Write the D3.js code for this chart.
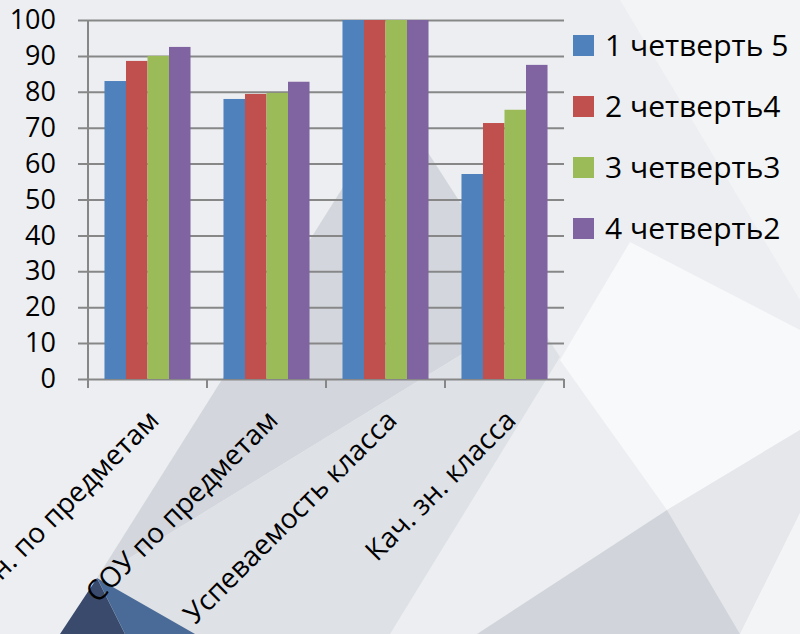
<!DOCTYPE html>
<html><head><meta charset="utf-8">
<script src="https://cdn.jsdelivr.net/npm/d3@7"></script>
<style>
html,body{margin:0;padding:0;background:#eceef1;}
svg{display:block;}
text{font-family:"Open Sans","Noto Sans",sans-serif;fill:#000;}
</style></head>
<body>
<svg id="chart" width="800" height="634"></svg>
<script>
const categories = ["Кач. зн. по предметам", "СОУ по предметам", "Успеваемость класса", "Кач. зн. класса"];
const seriesNames = ["1 четверть 5", "2 четверть4", "3 четверть3", "4 четверть2"];
const q1 = [83, 78, 100, 57.1];
const q2 = [88.6, 79.4, 100, 71.3];
const q3 = [90, 79.7, 100, 75];
const q4 = [92.5, 82.8, 100, 87.5];
const yTicks = [0, 10, 20, 30, 40, 50, 60, 70, 80, 90, 100];
const colors = ["#4F81BD", "#C0504D", "#9BBB59", "#8064A2"];

(function () {
const series = [q1, q2, q3, q4];
const svg = d3.select("#chart");

// background geometry
const bg = svg.append("g");
const polys = [
  {p:[[620,0],[800,0],[800,300]], c:"#f3f4f6"},
  {p:[[396,103],[97,578],[531,312]], c:"#d3d7dd"},
  {p:[[97,578],[531,312],[560,357],[390,634],[175,634]], c:"#dee1e6"},
  {p:[[630,242],[800,330],[800,430],[667,510],[560,360]], c:"#f8f9fa"},
  {p:[[667,510],[800,430],[800,513],[740,634]], c:"#e5e7eb"},
  {p:[[667,510],[477,634],[740,634]], c:"#d1d5db"},
  {p:[[800,513],[740,634],[800,634]], c:"#f3f4f6"},
  {p:[[97,578],[60,634],[125,634]], c:"#3a4a6c"},
  {p:[[97,578],[125,634],[195,634]], c:"#4a6b97"}
];
bg.selectAll("polygon").data(polys).join("polygon")
  .attr("points", d => d.p.map(q => q.join(",")).join(" "))
  .attr("fill", d => d.c);

const mLeft = 88, mRight = 564, mTop = 20, mBottom = 379;
const x0 = d3.scaleBand().domain(categories).range([mLeft, mRight]).paddingInner(0.277).paddingOuter(0.1385);
const x1 = d3.scaleBand().domain(d3.range(series.length)).range([0, x0.bandwidth()]);
const y = d3.scaleLinear().domain([0, 100]).range([mBottom, mTop]);

const gridColor = "#878787";
const font = '"Open Sans","Noto Sans",sans-serif';

// gridlines + y labels
const yAxis = svg.append("g").attr("transform", `translate(${mLeft - 10},0)`)
  .call(d3.axisLeft(y).tickValues(yTicks).tickSize(-(mRight - mLeft + 10)).tickPadding(22));
yAxis.select(".domain").remove();
yAxis.selectAll(".tick line").attr("stroke", gridColor).attr("stroke-width", 2);
yAxis.selectAll(".tick text").attr("font-size", 27).attr("font-family", font).attr("fill", "#000");

// y axis line
svg.append("line").attr("x1", mLeft).attr("x2", mLeft).attr("y1", mTop).attr("y2", mBottom + 9)
  .attr("stroke", gridColor).attr("stroke-width", 2);

// x category boundary ticks
const step = x0.step();
const bounds = d3.range(categories.length + 1).map(i => x0(categories[0]) - x0.paddingOuter() * step + i * step);
svg.append("g").selectAll("line").data(bounds).join("line")
  .attr("x1", d => d).attr("x2", d => d).attr("y1", mBottom).attr("y2", mBottom + 9)
  .attr("stroke", gridColor).attr("stroke-width", 2);

// bars
const groups = svg.append("g").selectAll("g").data(categories).join("g")
  .attr("transform", d => `translate(${x0(d)},0)`);
groups.selectAll("rect").data((d, i) => series.map((s, k) => ({k, v: s[i]}))).join("rect")
  .attr("x", d => x1(d.k)).attr("width", x1.bandwidth())
  .attr("y", d => y(d.v)).attr("height", d => y(0) - y(d.v))
  .attr("fill", d => colors[d.k]);

// x labels
const xAxis = svg.append("g").attr("transform", `translate(0,${mBottom})`)
  .call(d3.axisBottom(x0).tickSize(0).tickPadding(0));
xAxis.select(".domain").remove();
xAxis.selectAll(".tick text")
  .attr("font-size", 28)
  .attr("font-family", font)
  .attr("fill", "#000")
  .attr("text-anchor", "end")
  .attr("dy", null)
  .attr("y", 0)
  .attr("transform", "translate(13,43) rotate(-45)");

// legend
const legend = svg.append("g").selectAll("g").data(seriesNames).join("g")
  .attr("transform", (d, i) => `translate(573,${45.5 + i * 61})`);
legend.append("rect").attr("x", 0).attr("y", -10.5).attr("width", 21).attr("height", 21)
  .attr("fill", (d, i) => colors[i]);
legend.append("text").attr("x", 32).attr("y", 0).attr("dy", "0.36em")
  .attr("font-size", 30).attr("font-family", font).text(d => d);
})();
</script>
</body></html>
